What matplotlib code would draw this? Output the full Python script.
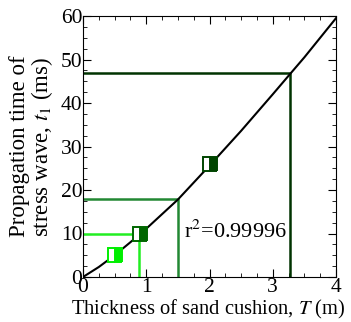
import numpy as np
import matplotlib.pyplot as plt
from matplotlib.ticker import MultipleLocator
from matplotlib.markers import MarkerStyle

plt.rcParams['font.family'] = ['Liberation Serif', 'DejaVu Serif']
plt.rcParams['mathtext.fontset'] = 'stix'

# fitted curve
curve_T = [0, 0.25, 0.5, 0.9, 1.0, 1.5, 2.0, 2.5, 3.0, 3.27, 3.5, 4.0]
curve_t = [0, 2.3, 5.0, 9.8, 11.1, 17.8, 25.6, 33.6, 42.0, 46.6, 50.5, 59.5]

# measured points
pt_T = [0.5, 0.9, 2.0]
pt_t = [5.0, 10.0, 26.0]
pt_col = ['#00ee00', '#006600', '#004400']

# guide lines
guide_T = [0.88, 1.5, 3.27]
guide_t = [10.0, 18.0, 47.0]
guide_col = ['#22ee22', '#228833', '#003300']

fig = plt.figure(figsize=(3.51, 3.22), dpi=100)
ax = fig.add_axes([83/351, 45/322, 253/351, 261/322])

for gx, gy, c in zip(guide_T, guide_t, guide_col):
    ax.plot([0, gx, gx], [gy, gy, 0], color=c, lw=1.8)

ax.plot(curve_T, curve_t, color='black', lw=1.5)

for x, y, c in zip(pt_T, pt_t, pt_col):
    ax.plot(x, y, marker=MarkerStyle('s', fillstyle='right'), markersize=10.5,
            markerfacecolor=c, markerfacecoloralt='white', markeredgecolor=c,
            markeredgewidth=1.4, ls='none')

ax.text(1.6, 10.3, 'r$^2$=0.99996', fontsize=16, va='center')

ax.set_xlim(0, 4)
ax.set_ylim(0, 60)
ax.xaxis.set_major_locator(MultipleLocator(1))
ax.xaxis.set_minor_locator(MultipleLocator(0.25))
ax.yaxis.set_major_locator(MultipleLocator(10))
ax.yaxis.set_minor_locator(MultipleLocator(2.5))
ax.tick_params(which='both', direction='in', top=True, right=True, labelsize=15.5, pad=0.5)
ax.tick_params(which='major', length=6)
ax.tick_params(which='minor', length=3)

fig.text(208/351, 1 - 309/322, 'Thickness of sand cushion, $T$ (m)', fontsize=14.8,
         ha='center', va='center')
ax.set_ylabel('Propagation time of\nstress wave, $t_1$ (ms)', fontsize=16.5, labelpad=4, linespacing=0.95)

fig.savefig('out.png', dpi=100)
